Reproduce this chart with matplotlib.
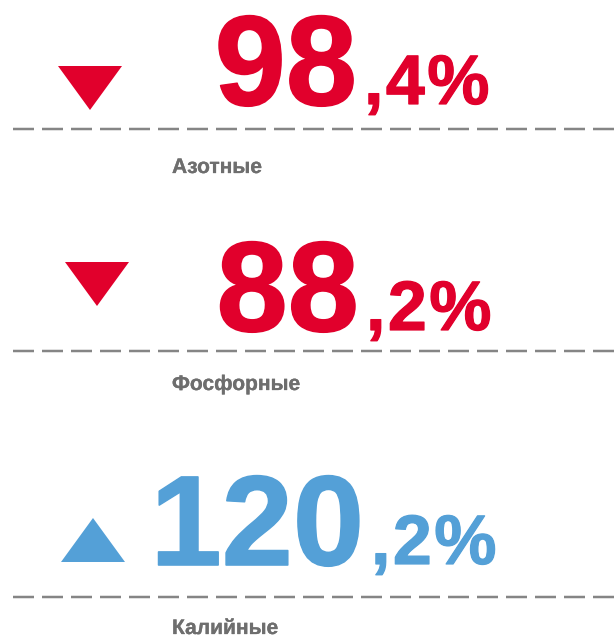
import matplotlib
matplotlib.use('Agg')
import matplotlib.pyplot as plt
from matplotlib.patches import Polygon
import matplotlib.patheffects as pe

# данные
labels = ['Азотные', 'Фосфорные', 'Калийные']
values = [98.4, 88.2, 120.2]

# раскладка (в пикселях)
line_y = [129, 351, 597]
base_y = [106, 332, 566]
label_y = [174, 391, 635]
split_x = [359, 361, 366]
tri_c = [(90, 88), (97, 284), (93, 540)]
tri_w, tri_h = 64, 44

red = '#e1002c'
blue = '#54a0d7'
grey_line = '#858585'
grey_text = '#6e6e6e'

plt.rcParams['font.family'] = ['Liberation Sans', 'DejaVu Sans']
plt.rcParams['lines.scale_dashes'] = False

fig = plt.figure(figsize=(6.16, 6.4), dpi=100)
ax = fig.add_axes([0, 0, 1, 1])
ax.set_xlim(0, 616)
ax.set_ylim(640, 0)
ax.axis('off')
renderer = fig.canvas.get_renderer()

px = 72 / 100  # пиксели -> пункты


def heavy(w, col):
    return [pe.withStroke(linewidth=w * px, foreground=col)]


for i, (lab, v) in enumerate(zip(labels, values)):
    up = v > 100
    col = blue if up else red
    whole, frac = f'{v:.1f}'.split('.')

    ax.text(split_x[i] - 2, base_y[i] - 1, whole, ha='right', va='baseline',
            fontsize=128 * px, fontweight='bold', color=col,
            path_effects=heavy(1.6, col))

    # дробная часть — по символу, с разрядкой
    x = split_x[i] + 5
    for ch in [','] + list(frac) + ['%']:
        t = ax.text(x, base_y[i] - 2, ch, ha='left', va='baseline',
                    fontsize=70 * px, fontweight='bold', color=col,
                    path_effects=heavy(1.2, col))
        x += t.get_window_extent(renderer).width + 2.5

    cx, cy = tri_c[i]
    if up:
        pts = [(cx - tri_w / 2, cy + tri_h / 2), (cx + tri_w / 2, cy + tri_h / 2), (cx, cy - tri_h / 2)]
    else:
        pts = [(cx - tri_w / 2, cy - tri_h / 2), (cx + tri_w / 2, cy - tri_h / 2), (cx, cy + tri_h / 2)]
    ax.add_patch(Polygon(pts, closed=True, color=col, lw=0))

    ax.plot([13, 616], [line_y[i], line_y[i]], color=grey_line, lw=2.5 * px,
            dashes=(21 * px, 8 * px), solid_capstyle='butt', dash_capstyle='butt')

    ax.text(172, label_y[i] - 1, lab, ha='left', va='baseline',
            fontsize=21 * px, fontweight='bold', color=grey_text,
            path_effects=heavy(0.3, grey_text))

fig.savefig('out.png', dpi=100)
